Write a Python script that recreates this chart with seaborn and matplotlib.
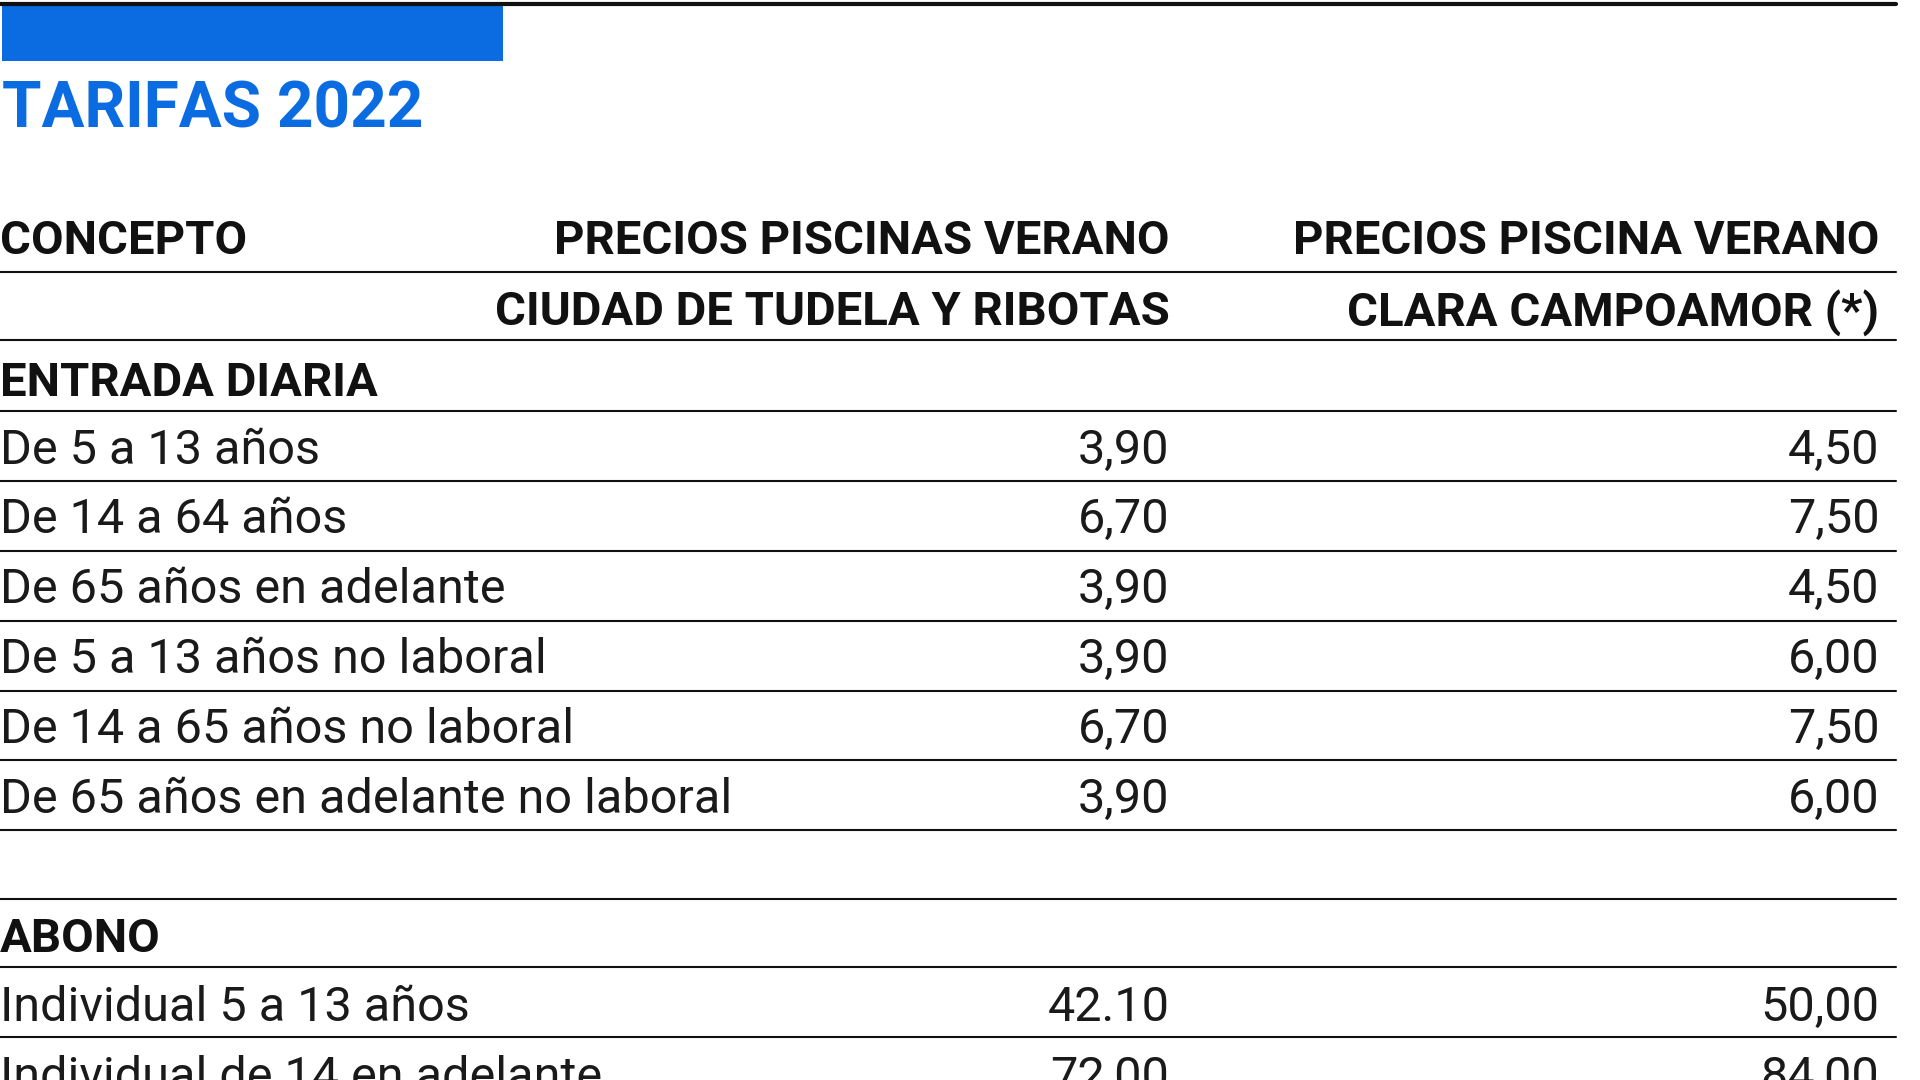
import matplotlib.pyplot as plt
import seaborn as sns
from matplotlib.patches import Rectangle

sns.set_theme(style="white")
plt.rcParams['font.family'] = ['Roboto', 'DejaVu Sans']

# data
title = "TARIFAS 2022"
header_col1 = ["PRECIOS PISCINAS VERANO", "CIUDAD DE TUDELA Y RIBOTAS"]
header_col2 = ["PRECIOS PISCINA VERANO", "CLARA CAMPOAMOR (*)"]
diaria_labels = ["De 5 a 13 años", "De 14 a 64 años", "De 65 años en adelante",
                 "De 5 a 13 años no laboral", "De 14 a 65 años no laboral",
                 "De 65 años en adelante no laboral"]
diaria_tudela = ["3,90", "6,70", "3,90", "3,90", "6,70", "3,90"]
diaria_clara = ["4,50", "7,50", "4,50", "6,00", "7,50", "6,00"]
abono_labels = ["Individual 5 a 13 años", "Individual de 14 en adelante"]
abono_tudela = ["42.10", "72,00"]
abono_clara = ["50,00", "84,00"]

blue = "#0a6ce0"
W, H = 1568, 882
fig = plt.figure(figsize=(19.2, 10.8), dpi=100)
ax = fig.add_axes([0, 0, 1, 1])
ax.set_xlim(0, W)
ax.set_ylim(H, 0)
ax.axis("off")

XR1, XR2, XEND = 955, 1535, 1548
body = dict(fontsize=35, fontweight="normal", color="#1a1a1a", va="center")
bold = dict(fontsize=34, fontweight="bold", color="#111111", va="center")

def hline(y, lw=1.5):
    ax.plot([0, XEND], [y, y], color="#111111", lw=lw)

hline(3, 3)
ax.add_patch(Rectangle((2, 5), 409, 45, color=blue, lw=0))
ax.text(2, 90, title, fontsize=46, fontweight="bold", color=blue, va="center")

ax.text(0, 197, "CONCEPTO", ha="left", **bold)
ax.text(XR1, 197, header_col1[0], ha="right", **bold)
ax.text(XR2, 197, header_col2[0], ha="right", **bold)
hline(222)
ax.text(XR1, 255, header_col1[1], ha="right", **bold)
ax.text(XR2, 255, header_col2[1], ha="right", **bold)
hline(278)
ax.text(0, 313, "ENTRADA DIARIA", ha="left", **bold)
hline(336)

y = 368
for lab, a, b in zip(diaria_labels, diaria_tudela, diaria_clara):
    ax.text(0, y, lab, ha="left", **body)
    ax.text(XR1, y, a, ha="right", **body)
    ax.text(XR2, y, b, ha="right", **body)
    hline(y + 25)
    y += 57

hline(734)
ax.text(0, 767, "ABONO", ha="left", **bold)
hline(790)
y = 823
for lab, a, b in zip(abono_labels, abono_tudela, abono_clara):
    ax.text(0, y, lab, ha="left", **body)
    ax.text(XR1, y, a, ha="right", **body)
    ax.text(XR2, y, b, ha="right", **body)
    hline(y + 24)
    y += 57

fig.savefig("out.png", dpi=100, facecolor="white")
